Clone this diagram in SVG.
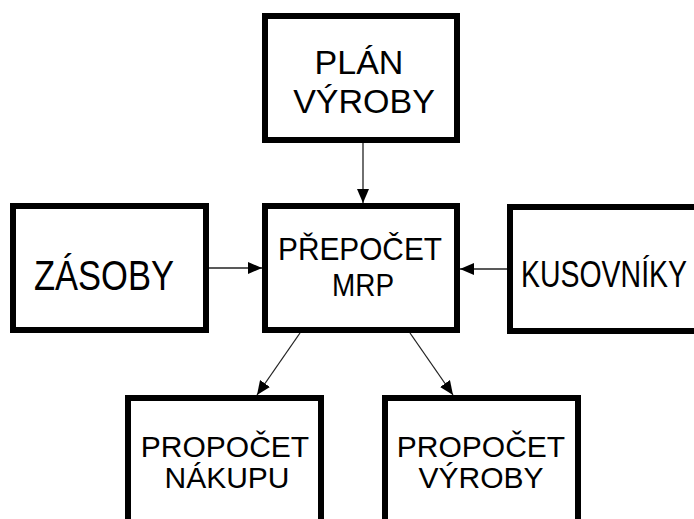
<svg xmlns="http://www.w3.org/2000/svg" width="694" height="519" viewBox="0 0 694 519">
<style>
.box{fill:#fff;stroke:#000;stroke-width:6}
.t{font-family:"Liberation Sans",Arial,sans-serif;fill:#000;text-anchor:middle}
.c{stroke:#222;stroke-width:1.3;fill:none;marker-end:url(#ah)}
</style>
<defs>
<marker id="ah" markerUnits="userSpaceOnUse" markerWidth="14" markerHeight="14" viewBox="0 0 14 14" refX="14" refY="7" orient="auto">
<path d="M0,1 L14,7 L0,13 Z" fill="#000"/>
</marker>
</defs>
<rect width="694" height="519" fill="#fff"/>
<g id="connectors">
<line class="c" x1="363" y1="143" x2="363" y2="203"/>
<line class="c" x1="209" y1="268" x2="262" y2="268"/>
<line class="c" x1="507" y1="269" x2="460" y2="269"/>
<line class="c" x1="300" y1="333" x2="257" y2="395"/>
<line class="c" x1="410" y1="333" x2="453" y2="395"/>
</g>
<g id="plan">
<rect class="box" x="265" y="16" width="192" height="124"/>
<text class="t" x="359" y="74" font-size="34">PLÁN</text>
<text class="t" x="364" y="113" font-size="34">VÝROBY</text>
</g>
<g id="zasoby">
<rect class="box" x="13" y="206" width="193" height="124"/>
<text class="t" x="104" y="290" font-size="43" textLength="140" lengthAdjust="spacingAndGlyphs">ZÁSOBY</text>
</g>
<g id="mrp">
<rect class="box" x="265" y="206" width="192" height="124"/>
<text class="t" x="360" y="260" font-size="32" textLength="164" lengthAdjust="spacingAndGlyphs">PŘEPOČET</text>
<text class="t" x="363" y="296" font-size="32" textLength="62" lengthAdjust="spacingAndGlyphs">MRP</text>
</g>
<g id="kusovniky">
<rect class="box" x="510" y="207" width="200" height="124"/>
<text class="t" x="604" y="287" font-size="36" textLength="166" lengthAdjust="spacingAndGlyphs">KUSOVNÍKY</text>
</g>
<g id="nakup">
<rect class="box" x="128" y="398" width="193" height="130"/>
<text class="t" x="225" y="457" font-size="30">PROPOČET</text>
<text class="t" x="227" y="488" font-size="30">NÁKUPU</text>
</g>
<g id="vyroba">
<rect class="box" x="385" y="398" width="193" height="130"/>
<text class="t" x="481" y="457" font-size="30">PROPOČET</text>
<text class="t" x="481" y="488" font-size="30">VÝROBY</text>
</g>
</svg>
